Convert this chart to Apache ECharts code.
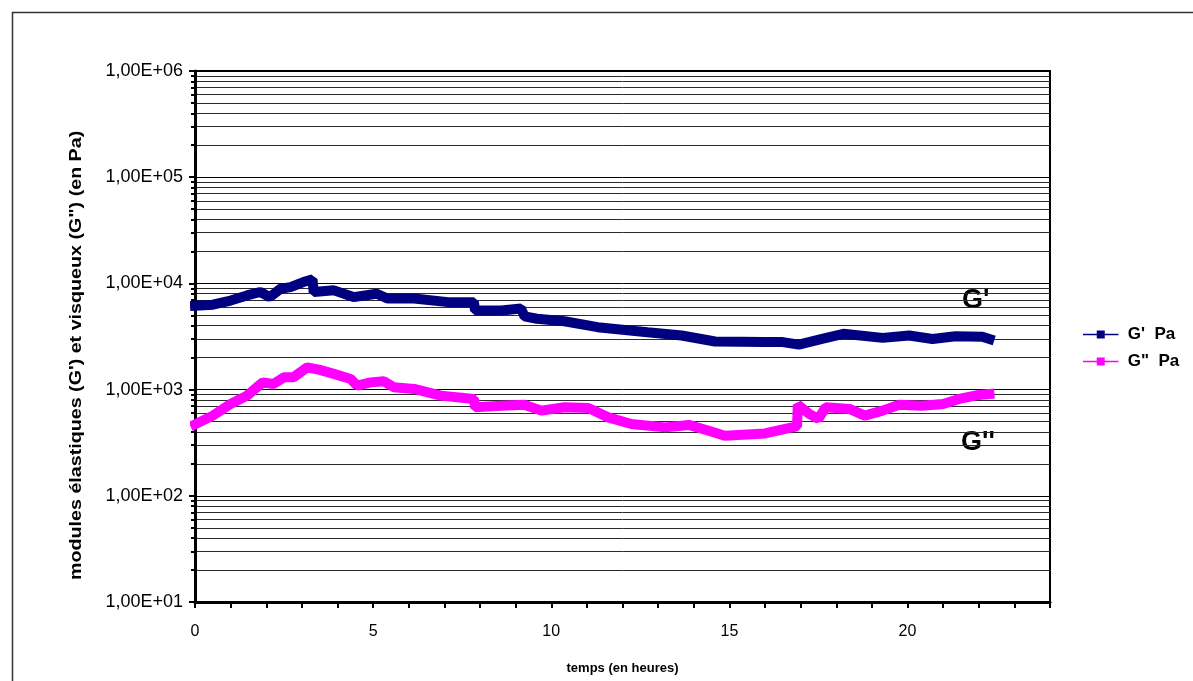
<!DOCTYPE html>
<html>
<head>
<meta charset="utf-8">
<script src="https://cdn.jsdelivr.net/npm/echarts@6/dist/echarts.min.js"></script>
<style>
html,body{margin:0;padding:0;background:#fff;}
#chart{width:1193px;height:681px;}
</style>
</head>
<body>
<div id="chart"></div>
<script>
// Data (time in hours, modulus in Pa)
const gPrimeTime = [0, 0.5, 1.0, 1.46, 1.83, 2.1, 2.4, 2.68, 3.04, 3.3, 3.33, 3.9, 4.45, 5.1, 5.4, 6.15, 7.1, 7.83, 7.86, 8.6, 9.15, 9.25, 9.6, 10.37, 11.3, 12.7, 13.66, 14.6, 16.0, 16.5, 16.95, 17.6, 18.2, 19.3, 20.05, 20.7, 21.35, 22.1, 22.3];
const gPrimeValues = [6150, 6300, 6900, 7700, 8300, 7430, 8900, 9230, 10300, 10900, 8300, 8600, 7430, 7990, 7200, 7200, 6660, 6660, 5560, 5560, 5800, 4900, 4650, 4400, 3870, 3470, 3230, 2840, 2800, 2800, 2650, 3000, 3350, 3070, 3230, 3000, 3180, 3150, 3000];
const gSecondTime = [0, 0.5, 1.0, 1.46, 1.9, 2.2, 2.5, 2.77, 3.15, 3.5, 3.9, 4.37, 4.55, 4.93, 5.3, 5.58, 6.15, 6.9, 7.83, 7.86, 8.6, 9.24, 9.72, 10.37, 11.04, 11.6, 12.25, 13.2, 13.86, 14.42, 14.87, 16.0, 16.76, 16.9, 16.92, 17.24, 17.5, 17.7, 18.37, 18.8, 19.3, 19.77, 20.4, 21.0, 21.45, 22.0, 22.3];
const gSecondValues = [470, 569, 733, 878, 1170, 1130, 1305, 1310, 1620, 1535, 1406, 1260, 1090, 1170, 1200, 1050, 1015, 878, 817, 681, 706, 721, 634, 681, 670, 548, 474, 441, 465, 410, 368, 387, 441, 450, 720, 590, 530, 681, 658, 569, 634, 721, 706, 733, 817, 891, 910];
const seriesNames = ["G'  Pa", 'G"  Pa'];
const xTitle = 'temps (en heures)';
const yTitle = 'modules élastiques (G\') et visqueux (G") (en Pa)';
const curveLabels = ["G'", "G''"];

const FONT = '"Liberation Sans", Arial, sans-serif';
const pairs = (t, v) => t.map((x, i) => [x, v[i]]);

const chart = echarts.init(document.getElementById('chart'), null, {renderer: 'canvas'});
chart.setOption({
  animation: false,
  backgroundColor: '#fff',
  graphic: [
    {type: 'rect', left: 10, top: 10, shape: {x: 0, y: 0, width: 1400, height: 900},
     style: {fill: 'none', stroke: '#333', lineWidth: 1.5}, silent: true, z: 0},
    {type: 'text', x: 69, y: 580, rotation: Math.PI / 2, scaleX: 1.23, silent: true,
     style: {text: yTitle, font: 'bold 16px ' + FONT, fill: '#000', align: 'left', verticalAlign: 'top'}},
    {type: 'text', left: 962, top: 287, silent: true,
     style: {text: curveLabels[0], font: 'bold 27px ' + FONT, fill: '#000'}},
    {type: 'text', left: 961, top: 429, silent: true,
     style: {text: curveLabels[1], font: 'bold 27px ' + FONT, fill: '#000'}}
  ],
  grid: {left: 195, top: 71, right: 143, bottom: 79, show: true, borderColor: '#000', borderWidth: 2, backgroundColor: 'transparent'},
  legend: {
    orient: 'vertical', left: 1078, top: 321, itemWidth: 34, itemHeight: 10, itemGap: 10,
    textStyle: {fontFamily: FONT, fontWeight: 'bold', fontSize: 17, color: '#000', padding: [0, 0, 0, 5]},
    lineStyle: {width: 1.5},
    data: seriesNames
  },
  xAxis: {
    type: 'value', min: 0, max: 24, interval: 1,
    name: xTitle, nameLocation: 'middle', nameGap: 60,
    nameTextStyle: {fontFamily: FONT, fontWeight: 'bold', fontSize: 13, color: '#000'},
    axisLine: {show: true, onZero: false, lineStyle: {color: '#000', width: 3}},
    axisTick: {show: true, length: 6, lineStyle: {color: '#000', width: 2}},
    axisLabel: {fontFamily: FONT, fontSize: 16, color: '#000', margin: 22,
      formatter: v => (v % 5 === 0 ? String(v) : '')},
    splitLine: {show: false}
  },
  yAxis: {
    type: 'log', logBase: 10, min: 10, max: 1000000, splitNumber: 5,
    axisLine: {show: true, lineStyle: {color: '#000', width: 3}},
    axisTick: {show: true, length: 6, lineStyle: {color: '#000', width: 2}},
    minorTick: {show: true, splitNumber: 9, length: 4, lineStyle: {color: '#000', width: 2}},
    axisLabel: {fontFamily: FONT, fontSize: 18, color: '#000', margin: 12,
      formatter: v => '1,00E+' + String(Math.round(Math.log10(v))).padStart(2, '0')},
    splitLine: {show: true, lineStyle: {color: '#000', width: 1}},
    minorSplitLine: {show: true, lineStyle: {color: '#2a2a2a', width: 1}}
  },
  series: [
    {name: seriesNames[0], type: 'line', data: pairs(gPrimeTime, gPrimeValues),
     symbol: 'rect', symbolSize: 9, showSymbol: false, z: 3,
     lineStyle: {color: '#000080', width: 10, join: 'bevel', cap: 'square'}, itemStyle: {color: '#000080'}},
    {name: seriesNames[1], type: 'line', data: pairs(gSecondTime, gSecondValues),
     symbol: 'rect', symbolSize: 9, showSymbol: false, z: 3,
     lineStyle: {color: '#FF00FF', width: 10, join: 'bevel', cap: 'square'}, itemStyle: {color: '#FF00FF'}}
  ]
});
</script>
</body>
</html>
